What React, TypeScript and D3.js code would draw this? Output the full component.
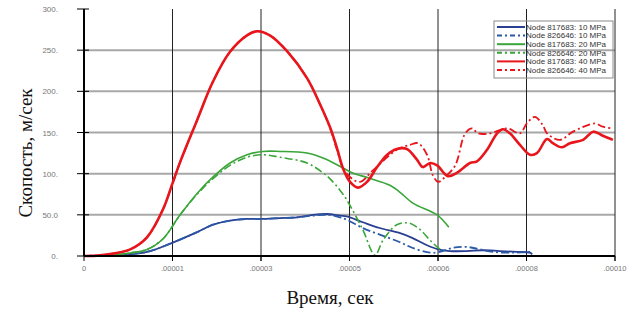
import * as d3 from 'd3'

// time in microseconds, speed in m/s
const red1: [number, number][] = [
  [0, 0], [3, 0.8], [5.5, 3], [8.7, 8], [11.9, 23], [14.9, 57], [16.6, 87], [18.1, 114], [21.3, 165],
  [24.3, 212], [27.5, 248], [30.7, 268], [32.6, 273], [35, 268], [38.2, 249], [42, 216], [44.4, 185],
  [46.3, 157], [47.6, 132], [48.8, 106], [50.1, 90], [51.6, 83], [53.3, 90], [55.2, 108], [57.1, 123],
  [58.9, 130], [60.8, 130], [62.7, 117], [63.8, 108], [65.2, 113], [66.5, 110], [68.5, 97], [70.2, 101],
  [72.7, 113], [74, 115], [75.9, 129], [77.8, 149], [78.9, 154], [80.2, 149], [82.1, 135], [84, 123],
  [85.3, 125], [87.2, 142], [88.3, 137], [90, 132], [91.5, 137], [94, 141], [95.9, 151], [97.7, 146], [99.6, 141],
]
const red2: [number, number][] = [
  [0, 0], [3, 0.8], [5.5, 3], [8.7, 8], [11.9, 23], [14.9, 57], [16.6, 87], [18.1, 114], [21.3, 165],
  [24.3, 212], [27.5, 248], [30.7, 268], [32.6, 273], [35, 268], [38.2, 249], [42, 216], [44.4, 185],
  [46.3, 156], [47.6, 130], [49.2, 102], [51.9, 90], [54.4, 104], [58.9, 129], [61.4, 135], [62.9, 137],
  [64.6, 123], [65.7, 98], [66.7, 90], [68, 96], [69.9, 110], [71.8, 149], [73.1, 155], [74.2, 149],
  [76.5, 149], [79.7, 155], [82.1, 149], [83.4, 161], [84.9, 169], [86.4, 159], [87.2, 149], [89.6, 141],
  [92.1, 151], [96.2, 161], [97.7, 157], [99.6, 155],
]
const green1: [number, number][] = [
  [0, 0], [5.5, 1], [8.7, 3.6], [11.9, 8], [14.9, 21], [18.1, 50], [21.3, 76], [24.3, 96], [27.5, 113],
  [30.7, 123], [33.7, 127], [36.9, 127], [42, 125], [45, 119], [48.2, 109], [50.5, 101], [53.5, 95],
  [57.6, 86], [59.4, 78], [62, 64], [66.5, 50], [68.7, 35],
]
const green2: [number, number][] = [
  [0, 0], [5.5, 1], [8.7, 3.6], [11.9, 8], [14.9, 21], [18.1, 50], [21.3, 75], [24.3, 94], [27.5, 110],
  [30.7, 120], [33.7, 123], [36.9, 120], [42, 113], [45, 101], [46.3, 94], [48.2, 80], [49.5, 68],
  [52.5, 32], [54.8, 1], [56.3, 19], [58.9, 38], [61.2, 40], [63.3, 32], [65.2, 19], [66.7, 10], [67.4, 7],
]
const blue1: [number, number][] = [
  [0, 0], [5.5, 1], [11.9, 5], [16.6, 16], [21.3, 29], [24.3, 38], [27.5, 43], [30.7, 45], [33.7, 45],
  [36.9, 46], [40.1, 47], [43.1, 50], [45.8, 51], [48.2, 49], [49.5, 48], [52.5, 41], [55.7, 34],
  [59.4, 28], [61.8, 22], [64.6, 13], [66.7, 8], [68.9, 6], [72.1, 6], [75.1, 7], [78.3, 6], [81.5, 5], [84, 4], [84.4, 2],
]
const blue2: [number, number][] = [
  [0, 0], [5.5, 1], [11.9, 5], [16.6, 16], [21.3, 29], [24.3, 38], [27.5, 43], [30.7, 45], [33.7, 45],
  [36.9, 46], [40.1, 47], [43.1, 49], [45.8, 50], [48.2, 47], [49.5, 44], [52.5, 34], [55.7, 26],
  [59.4, 17], [61.8, 10], [65.2, 4], [67, 5], [69.5, 10], [72.1, 11], [74.6, 8], [77, 5], [80.8, 4], [84, 5],
]

const seriesNames = [
  'Node 817683: 10 MPa',
  'Node 826646: 10 MPa',
  'Node 817683: 20 MPa',
  'Node 826646: 20 MPa',
  'Node 817683: 40 MPa',
  'Node 826646: 40 MPa',
]
const seriesData = [blue1, blue2, green1, green2, red1, red2]
const seriesColor = ['#2b3f92', '#2b5aa8', '#3aa63a', '#3aa63a', '#e8161c', '#e8161c']
const seriesWidth = [1.8, 1.8, 1.6, 1.6, 2.6, 1.8]
const seriesDash = ['none', '8,3,2,3', 'none', '8,3,2,3', 'none', '8,3,2,3']

const xTicks = [0, 100 / 6, 200 / 6, 50, 400 / 6, 500 / 6, 100]
const xTickLabels = ['0', '.00001', '.00003', '.00005', '.00006', '.00008', '.00010']
const yTicks = [0, 50, 100, 150, 200, 250, 300]
const yTickLabels = ['0.', '50.0', '100.', '150.', '200.', '250.', '300.']

const W = 635
const H = 309
const m = { left: 84, right: 20, top: 9, bottom: 53 }

export default function App() {
  const x = d3.scaleLinear().domain([0, 100]).range([m.left, W - m.right])
  const y = d3.scaleLinear().domain([0, 300]).range([H - m.bottom, m.top])
  const line = d3
    .line<[number, number]>()
    .x((d) => x(d[0]))
    .y((d) => y(d[1]))
    .curve(d3.curveCatmullRom.alpha(0.5))

  const y0 = y(0)
  const lgX = 494
  const lgY = 21

  return (
    <svg width={W} height={H} style={{ position: 'absolute', left: 0, top: 0, background: '#fff' }}>
      {/* horizontal grid */}
      {yTicks.slice(1, -1).map((t) => (
        <line key={'h' + t} x1={m.left} x2={W - m.right} y1={y(t)} y2={y(t)} stroke="#a8a8a8" strokeWidth={2} />
      ))}
      {/* vertical grid */}
      {xTicks.slice(1).map((t) => (
        <line key={'v' + t} x1={x(t)} x2={x(t)} y1={m.top} y2={y0 + 5} stroke="#222" strokeWidth={1} />
      ))}

      {/* legend */}
      <rect x={lgX} y={lgY} width={119} height={57} fill="none" stroke="#8a8a8a" strokeWidth={1} />
      {seriesNames.map((name, i) => {
        const ly = lgY + 6 + i * 8.6
        return (
          <g key={name}>
            <line x1={lgX + 3} x2={lgX + 31} y1={ly} y2={ly} stroke={seriesColor[i]} strokeWidth={2}
              strokeDasharray={seriesDash[i] === 'none' ? undefined : '5,3,2,3'} />
            <text x={lgX + 32} y={ly + 2.8} fontSize={8} fill="#333" fontFamily="Arial, 'Liberation Sans', sans-serif">
              {name}
            </text>
          </g>
        )
      })}

      {/* series */}
      {seriesData.map((d, i) => (
        <path key={i} d={line(d) ?? ''} fill="none" stroke={seriesColor[i]} strokeWidth={seriesWidth[i]}
          strokeDasharray={seriesDash[i] === 'none' ? undefined : seriesDash[i]} strokeLinejoin="round" />
      ))}

      {/* axes */}
      <line x1={m.left} x2={m.left} y1={m.top} y2={y0} stroke="#000" strokeWidth={2} />
      <line x1={m.left} x2={W - m.right} y1={y0} y2={y0} stroke="#000" strokeWidth={2} />
      {yTicks.map((t) => (
        <line key={'yt' + t} x1={m.left - 7} x2={m.left + 5} y1={y(t)} y2={y(t)} stroke="#000" strokeWidth={1} />
      ))}
      {xTicks.map((t) => (
        <line key={'xt' + t} x1={x(t)} x2={x(t)} y1={y0} y2={y0 + 5} stroke="#000" strokeWidth={1} />
      ))}
      {yTicks.map((t, i) => (
        <text key={'yl' + t} x={58} y={y(t) + 3} textAnchor="end" fontSize={8} fill="#777"
          fontFamily="Arial, 'Liberation Sans', sans-serif">
          {yTickLabels[i]}
        </text>
      ))}
      {xTicks.map((t, i) => (
        <text key={'xl' + t} x={x(t)} y={y0 + 15} textAnchor="middle" fontSize={7.5} fill="#777"
          fontFamily="Arial, 'Liberation Sans', sans-serif">
          {xTickLabels[i]}
        </text>
      ))}

      {/* titles */}
      <text x={330} y={304} textAnchor="middle" fontSize={19} fill="#111"
        fontFamily="'Liberation Serif', 'DejaVu Serif', serif">
        Время, сек
      </text>
      <text transform="translate(32,153) rotate(-90)" textAnchor="middle" fontSize={19} fill="#111"
        fontFamily="'Liberation Serif', 'DejaVu Serif', serif">
        Скопость, м/сек
      </text>
    </svg>
  )
}
